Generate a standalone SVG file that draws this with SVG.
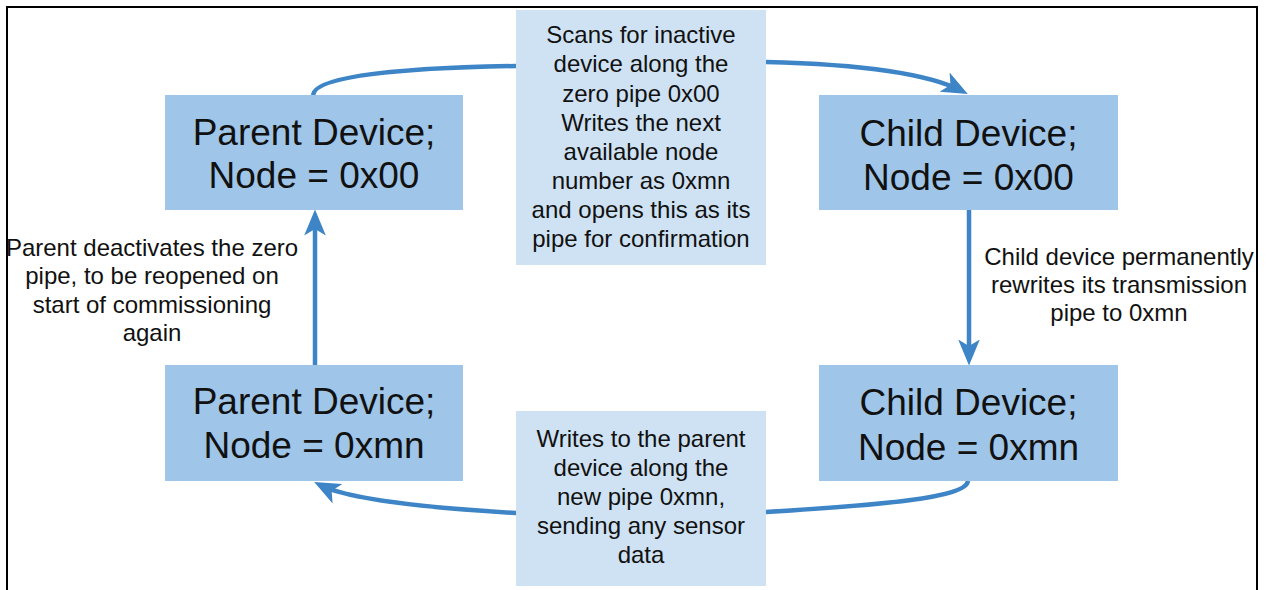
<svg xmlns="http://www.w3.org/2000/svg" width="1268" height="590" viewBox="0 0 1268 590">
<defs>
<style>
.node{fill:#9fc5e8}
.note{fill:#cfe2f3}
.nt{font-family:"Liberation Sans",Arial,sans-serif;font-size:37px;fill:#111;text-anchor:middle}
.lt{font-family:"Liberation Sans",Arial,sans-serif;font-size:24px;fill:#111;text-anchor:middle}
.conn{fill:none;stroke:#3d85c6;stroke-width:4.5}
</style>
<marker id="ah" markerUnits="userSpaceOnUse" markerWidth="26" markerHeight="22" refX="18" refY="10" orient="auto" viewBox="0 0 24 20">
<path d="M0,0 L24,10 L0,20 L6,10 Z" fill="#3d85c6"/>
</marker>
</defs>
<rect x="0" y="0" width="1268" height="590" fill="#fff"/>
<rect x="7" y="7" width="1250" height="600" fill="none" stroke="#000" stroke-width="2"/>
<g id="connectors">
<path class="conn" d="M313,95 C315,76 400,68 516,66 L766,62 C850,64 925,72 962,91" marker-end="url(#ah)"/>
<path class="conn" d="M969,210 L969,359" marker-end="url(#ah)"/>
<path class="conn" d="M968,481 C966,498 880,505 766,512 L516,513 C430,508 350,500 320,485" marker-end="url(#ah)"/>
<path class="conn" d="M315,365 L315,216" marker-end="url(#ah)"/>
</g>
<g id="note-top">
<rect class="note" x="516" y="10" width="250" height="255"/>
<text class="lt" x="641" y="43">Scans for inactive</text>
<text class="lt" x="641" y="72">device along the</text>
<text class="lt" x="641" y="102">zero pipe 0x00</text>
<text class="lt" x="641" y="131">Writes the next</text>
<text class="lt" x="641" y="160">available node</text>
<text class="lt" x="641" y="189">number as 0xmn</text>
<text class="lt" x="641" y="218">and opens this as its</text>
<text class="lt" x="641" y="247">pipe for confirmation</text>
</g>
<g id="note-bottom">
<rect class="note" x="516" y="411" width="250" height="175"/>
<text class="lt" x="641" y="447">Writes to the parent</text>
<text class="lt" x="641" y="476">device along the</text>
<text class="lt" x="641" y="505">new pipe 0xmn,</text>
<text class="lt" x="641" y="534">sending any sensor</text>
<text class="lt" x="641" y="563">data</text>
</g>
<g id="parent-00">
<rect class="node" x="165" y="95" width="298" height="115"/>
<text class="nt" x="314" y="145">Parent Device;</text>
<text class="nt" x="314" y="188">Node = 0x00</text>
</g>
<g id="child-00">
<rect class="node" x="819" y="95" width="299" height="115"/>
<text class="nt" x="968.5" y="146">Child Device;</text>
<text class="nt" x="968.5" y="190">Node = 0x00</text>
</g>
<g id="child-mn">
<rect class="node" x="819" y="365" width="299" height="116"/>
<text class="nt" x="968.5" y="415">Child Device;</text>
<text class="nt" x="968.5" y="460">Node = 0xmn</text>
</g>
<g id="parent-mn">
<rect class="node" x="165" y="365" width="298" height="116"/>
<text class="nt" x="314" y="414">Parent Device;</text>
<text class="nt" x="314" y="458">Node = 0xmn</text>
</g>
<g id="label-left">
<text class="lt" x="152" y="256">Parent deactivates the zero</text>
<text class="lt" x="152" y="284">pipe, to be reopened on</text>
<text class="lt" x="152" y="313">start of commissioning</text>
<text class="lt" x="152" y="341">again</text>
</g>
<g id="label-right">
<text class="lt" x="1119" y="265">Child device permanently</text>
<text class="lt" x="1119" y="293">rewrites its transmission</text>
<text class="lt" x="1119" y="321">pipe to 0xmn</text>
</g>
</svg>
